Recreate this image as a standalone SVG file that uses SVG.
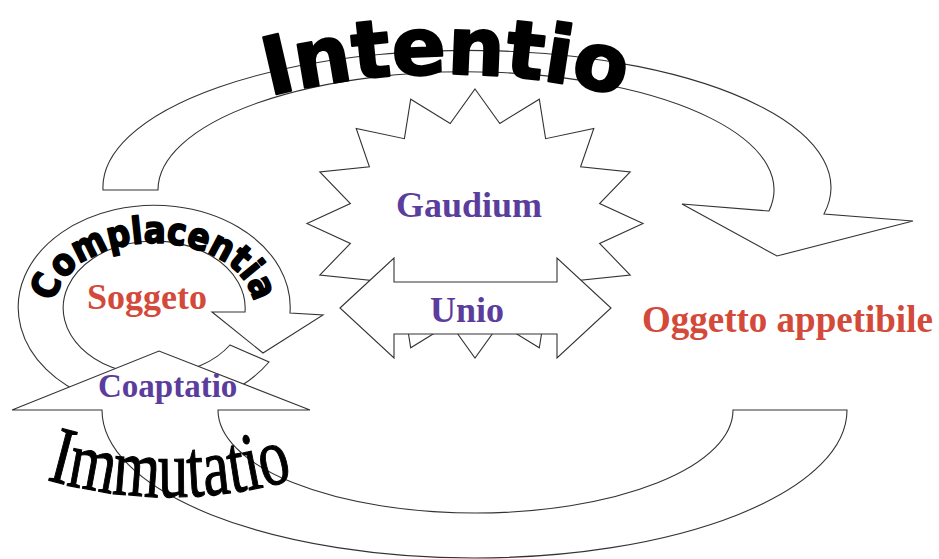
<svg xmlns="http://www.w3.org/2000/svg" width="939" height="559" viewBox="0 0 939 559">
<style>
.shape{fill:#fff;stroke:#333;stroke-width:1.1;stroke-linejoin:miter}
.lbl{font-family:"Liberation Serif","Times New Roman",serif;font-weight:bold}
.purple{fill:#5b3d9c}
.red{fill:#d3493a}
.art{font-family:"DejaVu Sans","Liberation Sans",sans-serif;font-weight:bold;fill:#000;stroke:#000;stroke-linejoin:round}
</style>
<defs>
<path id="pIntentio" d="M 96,164.8 A 720 720 0 0 1 796,164.8"/>
<path id="pCompl" d="M 84,356 A 100 66 0 1 1 224,356"/>
<path id="pImmut" d="M -5,461.4 A 448 448 0 0 0 345,461.4"/>
</defs>
<rect width="939" height="559" fill="#fff"/>
<g id="connectors">
<g id="intentio">
<path class="shape" d="M 103,190 A 364 137 0 1 1 824,214 L 913,221 L 777,256 L 682,204 L 769,211 A 308 118 0 1 0 158,190 Z"/>
<text class="art" font-size="80" stroke-width="2.2"><textPath href="#pIntentio" startOffset="50%" text-anchor="middle">Intentio</textPath></text>
</g>
<g id="complacentia">
<path class="shape" d="M 230,345 L 269,362 A 136 102 0 1 1 290,313 L 323,315 L 263,353 L 212,312 L 245,312 A 91 67 0 1 0 230,345 Z"/>
<text class="art" font-size="37" stroke-width="1.8" textLength="250" lengthAdjust="spacingAndGlyphs"><textPath href="#pCompl" startOffset="50%" text-anchor="middle" textLength="250" lengthAdjust="spacingAndGlyphs">Complacentia</textPath></text>
</g>
<g id="immutatio">
<path class="shape" d="M 847,410 A 372.5 148 0 0 1 102,410 L 12,410 L 159,351 L 310,410 L 218,410 A 257.5 103 0 0 0 733,410 Z"/>
<text font-family="Liberation Serif, Times New Roman, serif" font-size="82" fill="#000" stroke="#000" stroke-width="1.2" textLength="250" lengthAdjust="spacingAndGlyphs"><textPath href="#pImmut" startOffset="50%" text-anchor="middle" textLength="250" lengthAdjust="spacingAndGlyphs">Immutatio</textPath></text>
<text class="lbl purple" x="98" y="397" font-size="33">Coaptatio</text>
</g>
</g>
<g id="gaudium">
<polygon class="shape" points="475,89 499.8,123.5 539.3,99.2 545.6,138.7 593.8,128.4 580.6,166.8 630.2,172 599.6,203.6 643,223.5 599.6,243.4 630.2,275 580.6,280.2 593.8,318.6 545.6,308.3 539.3,347.8 499.8,323.5 475,358 450.2,323.5 410.7,347.8 404.4,308.3 356.2,318.6 369.4,280.2 319.8,275 350.4,243.4 307,223.5 350.4,203.6 319.8,172 369.4,166.8 356.2,128.4 404.4,138.7 410.7,99.2 450.2,123.5"/>
<text class="lbl purple" x="469" y="217" font-size="36" text-anchor="middle">Gaudium</text>
</g>
<g id="unio">
<polygon class="shape" points="340,308 394,258 394,282 557,282 557,258 611,308 557,358 557,334 394,334 394,358"/>
<text class="lbl purple" x="467" y="322" font-size="36" text-anchor="middle">Unio</text>
</g>
<g id="soggeto">
<text class="lbl red" x="87" y="309" font-size="36">Soggeto</text>
</g>
<g id="oggetto">
<text class="lbl red" x="642" y="332" font-size="37">Oggetto appetibile</text>
</g>
</svg>
